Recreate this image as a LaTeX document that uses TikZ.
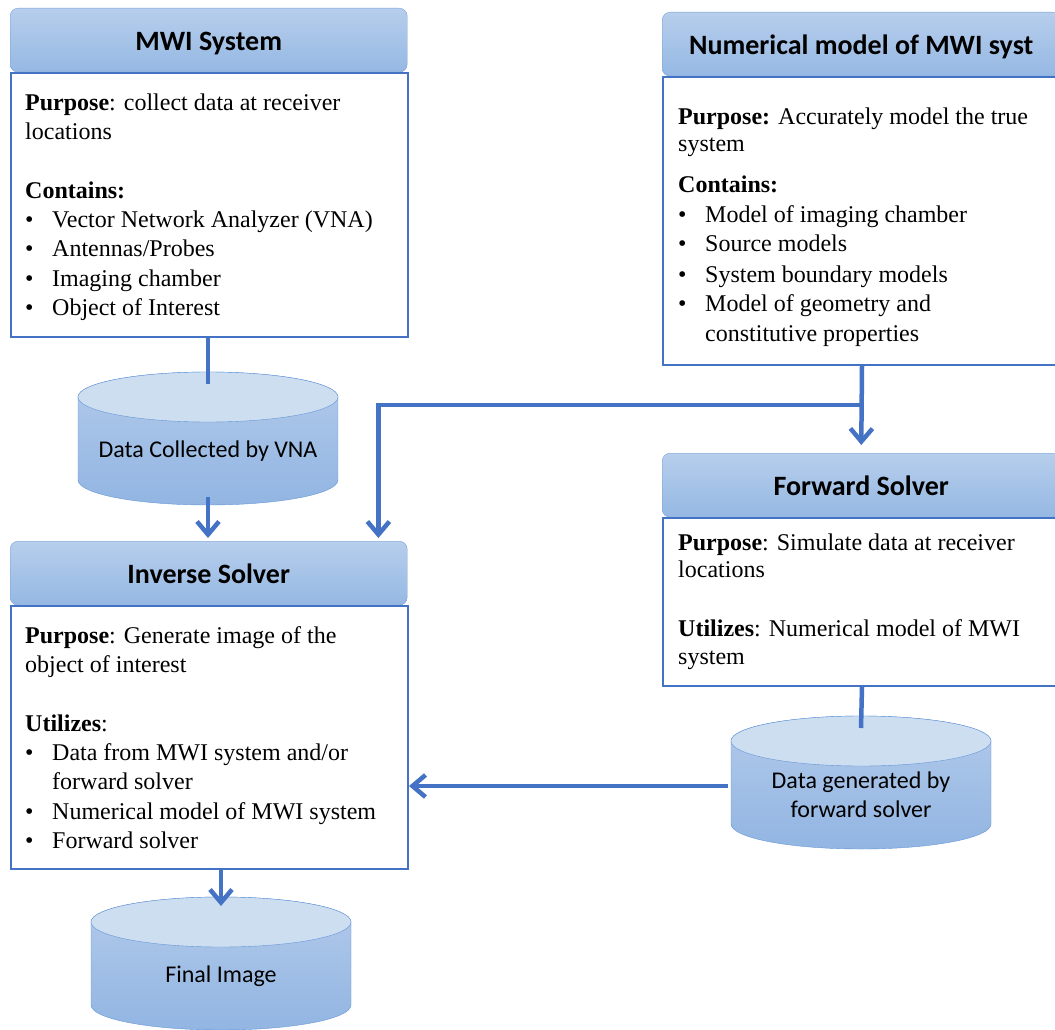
\documentclass[tikz,border=0pt]{standalone}
\usepackage{fontspec}
\setmainfont{Liberation Serif}
\newfontfamily\calibri{Carlito}
\usetikzlibrary{arrows.meta}
\definecolor{linkblue}{RGB}{68,114,196}
\definecolor{headtop}{RGB}{183,206,236}
\definecolor{headbot}{RGB}{149,184,227}
\definecolor{headline}{RGB}{120,160,215}
\definecolor{cyltop}{RGB}{206,222,241}
\definecolor{cylhi}{RGB}{178,202,234}
\definecolor{cyllo}{RGB}{146,181,226}
\definecolor{cylline}{RGB}{100,150,215}

\newcommand{\itm}{\makebox[27pt][l]{\textbullet}}
\newcommand{\datastore}[4]{%
  \shadedraw[top color=cylhi, bottom color=cyllo, draw=cylline, thin]
    (#2-130,#3+25) -- (#2-130,#3+108)
    arc[start angle=180, end angle=0, x radius=130, y radius=25]
    -- (#2+130,#3+25)
    arc[start angle=0, end angle=-180, x radius=130, y radius=25] -- cycle;
  \filldraw[fill=cyltop, draw=cylline, thin] (#2,#3+25) ellipse[x radius=130, y radius=25];
  \node[cyltext] (#1) at (#2,#3+79) {#4};
  \coordinate (#1-t) at (#2,#3+12);
  \coordinate (#1-b) at (#2,#3+125);
  \coordinate (#1-l) at (#2-133,#3+70);
}

\begin{document}
\begin{tikzpicture}[x=1pt,y=-1pt,
    head/.style={draw=headline, rounded corners=8pt, top color=headtop, bottom color=headbot,
      minimum height=64pt, text height=25pt, text depth=5pt, inner sep=0pt, anchor=north west,
      font=\calibri\bfseries\fontsize{28}{30}\selectfont},
    body/.style={draw=linkblue, line width=2pt, fill=white, inner sep=0pt, anchor=north west},
    txt/.style={anchor=north west, align=left, inner sep=0pt, font=\fontsize{24}{29.3}\selectfont},
    cyltext/.style={align=center, inner sep=0pt, font=\calibri\fontsize{24}{29}\selectfont},
    link/.style={draw=linkblue, line width=4.5pt},
    arrow/.style={link, -{Straight Barb[length=13pt,width=22pt]}, shorten >=3pt}]
    \useasboundingbox (0,0) rectangle (1055,1030);
    \clip (0,0) rectangle (1055,1030);

    \node[head, minimum width=397pt] (mwih) at (10,8) {MWI System};
    \node[body, minimum width=397pt, minimum height=264pt] (mwib) at (10,72) {};
    \node[txt] (mwit) at (25,110-20.5) {\strut\textbf{Purpose}: collect data at receiver\\
      locations\\[29.3pt]
      \textbf{Contains:}\\
      \itm Vector Network Analyzer (VNA)\\
      \itm Antennas/Probes\\
      \itm Imaging chamber\\
      \itm Object of Interest};

    \node[head, minimum width=398pt] (numh) at (662,12) {Numerical model of MWI syst};
    \node[body, minimum width=398pt, minimum height=288pt] (numb) at (662,76) {};
    \node[txt] (numt) at (678,124-20.5) {\strut\textbf{Purpose:} Accurately model the true\\[-1.6pt]
      system\\[11.7pt]
      \textbf{Contains:}\\
      \itm Model of imaging chamber\\
      \itm Source models\\[1.7pt]
      \itm System boundary models\\
      \itm Model of geometry and\\
      \hspace*{27pt}constitutive properties};

    \node[head, minimum width=397pt] (invh) at (10,541) {Inverse Solver};
    \node[body, minimum width=397pt, minimum height=263pt] (invb) at (10,605) {};
    \node[txt] (invt) at (25,643-20.5) {\strut\textbf{Purpose}: Generate image of the\\
      object of interest\\[29.3pt]
      \textbf{Utilizes}:\\
      \itm Data from MWI system and/or\\
      \hspace*{27pt}forward solver\\
      \itm Numerical model of MWI system\\
      \itm Forward solver};

    \node[head, minimum width=398pt] (fwdh) at (662,453) {Forward Solver};
    \node[body, minimum width=398pt, minimum height=168pt] (fwdb) at (662,517) {};
    \node[txt] (fwdt) at (678,550-20.5) {\strut\textbf{Purpose}: Simulate data at receiver\\[-2pt]
      locations\\[30.1pt]
      \textbf{Utilizes}: Numerical model of MWI\\[-2pt]
      system};

    \datastore{vna}{208}{372}{Data Collected by VNA}
    \datastore{gen}{861}{716}{Data generated by\\ forward solver}
    \datastore{fin}{221}{897}{Final Image}

    \coordinate (split) at (861,405);
    \draw[link] (vna-t |- mwib.south) -- (vna-t);
    \draw[arrow] (vna-b) -- (vna-b |- invh.north);
    \draw[arrow, shorten >=8pt] (numb.south) -- (fwdh.north);
    \draw[arrow] (split) -| ([xshift=-29pt]invh.north east);
    \draw[link] (fwdb.south) -- (gen-t);
    \draw[arrow, shorten >=0pt] (gen-l) -- (gen-l -| invb.east);
    \draw[arrow] (fin-t |- invb.south) -- (fin-t);
  \end{tikzpicture}
\end{document}
